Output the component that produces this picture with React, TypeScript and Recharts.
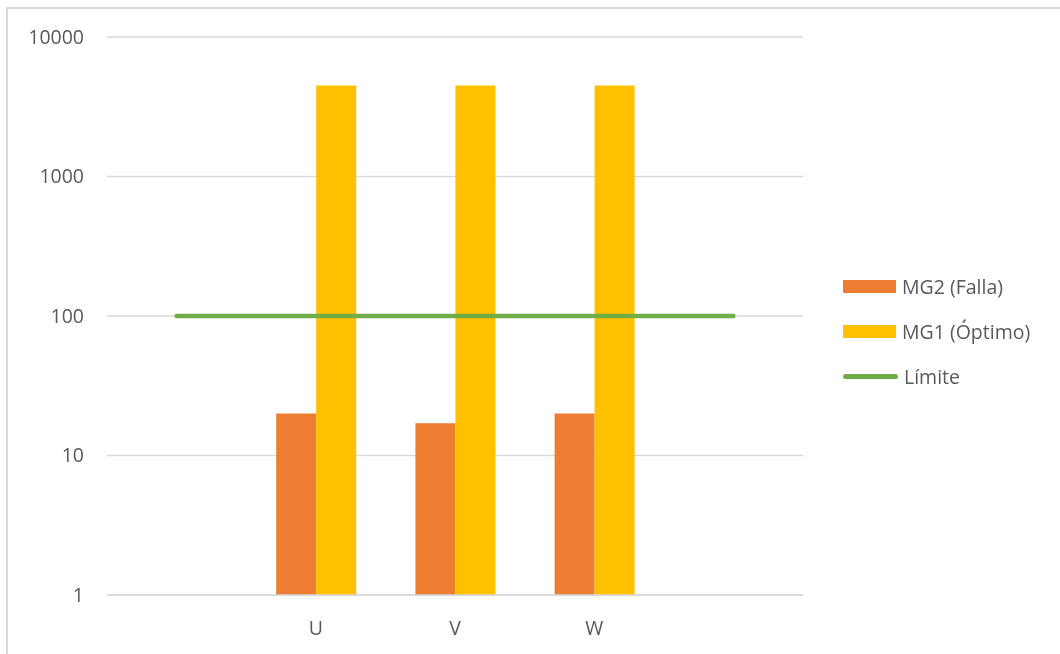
import React from "react";
import { ComposedChart, Bar, Line, XAxis, YAxis, CartesianGrid } from "recharts";

const categories = ["", "U", "V", "W", " "];
const mg2Falla = [null, 20, 17, 20, null];
const mg1Optimo = [null, 4500, 4500, 4500, null];
const limite = [100, 100, 100, 100, 100];
const yTicks = [1, 10, 100, 1000, 10000];

const series = [
  { key: "mg2", name: "MG2 (Falla)", color: "#ed7d31", kind: "bar" },
  { key: "mg1", name: "MG1 (Óptimo)", color: "#ffc000", kind: "bar" },
  { key: "limite", name: "Límite", color: "#70ad47", kind: "line" },
];

const data = categories.map((cat, i) => ({
  cat,
  mg2: mg2Falla[i],
  mg1: mg1Optimo[i],
  limite: limite[i],
}));

const font = "'Open Sans', Lato, sans-serif";
const textColor = "#595959";

function LegendBox() {
  return (
    <div style={{ position: "fixed", left: 843, top: 264, fontFamily: font, fontSize: 19.5, color: textColor }}>
      {series.map((s) => (
        <div key={s.key} style={{ display: "flex", alignItems: "center", height: 45 }}>
          {s.kind === "bar" ? (
            <span style={{ display: "inline-block", width: 53, height: 13, background: s.color }} />
          ) : (
            <span style={{ display: "inline-block", width: 55, height: 5, borderRadius: 3, background: s.color }} />
          )}
          <span style={{ marginLeft: 6 }}>{s.name}</span>
        </div>
      ))}
    </div>
  );
}

export default function App() {
  return (
    <div>
      <div style={{ position: "fixed", left: 0, top: 0 }}>
        <ComposedChart
          width={1060}
          height={654}
          data={data}
          margin={{ top: 37, right: 257, bottom: 19, left: 0 }}
          barGap={0}
        >
          <CartesianGrid vertical={false} stroke="#d9d9d9" strokeWidth={1.5} />
          <XAxis
            dataKey="cat"
            height={40}
            tickLine={false}
            tickSize={0}
            tickMargin={26}
            axisLine={{ stroke: "#d9d9d9", strokeWidth: 1.5 }}
            tick={{ fill: textColor, fontSize: 19.5, fontFamily: font }}
          />
          <YAxis
            scale="log"
            domain={[1, 10000]}
            ticks={yTicks}
            allowDataOverflow
            width={107}
            axisLine={false}
            tickLine={false}
            tickSize={0}
            tickMargin={23}
            tick={{ fill: textColor, fontSize: 19.5, fontFamily: font }}
          />
          <Bar dataKey="mg2" name="MG2 (Falla)" fill="#ed7d31" barSize={40} isAnimationActive={false} />
          <Bar dataKey="mg1" name="MG1 (Óptimo)" fill="#ffc000" barSize={40} isAnimationActive={false} />
          <Line
            dataKey="limite"
            name="Límite"
            type="linear"
            stroke="#70ad47"
            strokeWidth={4.5}
            strokeLinecap="round"
            dot={false}
            activeDot={false}
            isAnimationActive={false}
          />
        </ComposedChart>
      </div>
      <div
        style={{
          position: "fixed",
          left: 6,
          top: 7,
          width: 1054,
          height: 647,
          boxSizing: "border-box",
          borderTop: "2px solid #d9d9d9",
          borderLeft: "2px solid #d9d9d9",
          pointerEvents: "none",
        }}
      />
      <LegendBox />
    </div>
  );
}
